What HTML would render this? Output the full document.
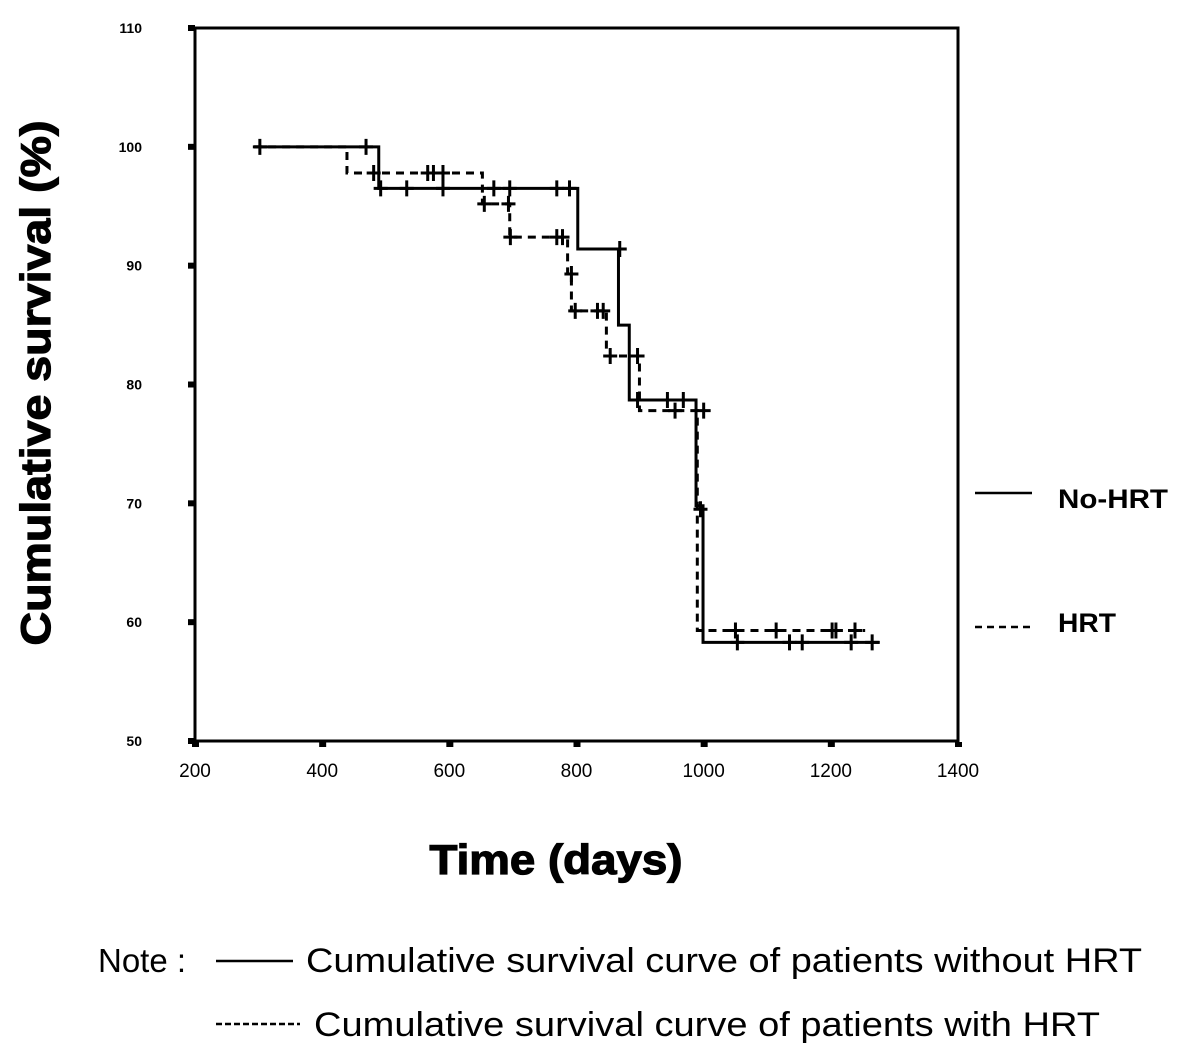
<!DOCTYPE html>
<html><head><meta charset="utf-8"><style>
body{margin:0;background:#fff;}
svg{display:block;font-family:"Liberation Sans",Arial,sans-serif;}
</style></head><body>
<svg id="chart" width="1181" height="1063" viewBox="0 0 1181 1063">
<rect x="0" y="0" width="1181" height="1063" fill="#fff"/>
<rect x="195" y="28" width="763" height="713" fill="none" stroke="#000" stroke-width="3"/>
<g id="yticks"></g>
<g id="xticks"></g>
<g id="series"></g>
<text x="0" y="0" transform="translate(50,383) rotate(-90)" text-anchor="middle" font-size="42" font-weight="bold" stroke="#000" stroke-width="1.2" textLength="525" lengthAdjust="spacingAndGlyphs">Cumulative survival (%)</text>
<text x="556" y="874" text-anchor="middle" font-size="42" font-weight="bold" stroke="#000" stroke-width="1.2" textLength="253" lengthAdjust="spacingAndGlyphs">Time (days)</text>
<line x1="975" y1="493" x2="1032" y2="493" stroke="#000" stroke-width="2.5"/>
<text x="1058" y="508" font-size="27" font-weight="bold" textLength="110" lengthAdjust="spacingAndGlyphs">No-HRT</text>
<line x1="975" y1="627" x2="1032" y2="627" stroke="#000" stroke-width="2.5" stroke-dasharray="7,5"/>
<text x="1058" y="632" font-size="27" font-weight="bold" textLength="58" lengthAdjust="spacingAndGlyphs">HRT</text>
<text x="98" y="972" font-size="33">Note :</text>
<line x1="216" y1="961" x2="293" y2="961" stroke="#000" stroke-width="2.5"/>
<text x="306" y="972" font-size="34" textLength="836" lengthAdjust="spacingAndGlyphs">Cumulative survival curve of patients without HRT</text>
<line x1="216" y1="1024" x2="300" y2="1024" stroke="#000" stroke-width="2.5" stroke-dasharray="6,3"/>
<text x="314" y="1036" font-size="34" textLength="786" lengthAdjust="spacingAndGlyphs">Cumulative survival curve of patients with HRT</text>
</svg>
<script>
const yTicks=[50,60,70,80,90,100,110];
const xTicks=[200,400,600,800,1000,1200,1400];
const noHrtTimes=[293,489,802,866,883,988,999,1277];
const noHrtValues=[100,96.5,91.4,85.0,78.7,69.8,58.3,58.3];
const noHrtCensorT=[302,469,492,533,590,670,695,769,789,868,896,943,968,1053,1135,1155,1232,1265];
const noHrtCensorV=[100,100,96.5,96.5,96.5,96.5,96.5,96.5,96.5,91.4,78.7,78.7,78.7,58.3,58.3,58.3,58.3,58.3];
const hrtTimes=[293,439,652,695,786,792,847,899,990,1254];
const hrtValues=[100,97.8,95.2,92.4,89.3,86.2,82.4,77.8,59.3,59.3];
const hrtCensorT=[481,566,575,590,655,693,696,769,778,792,798,833,842,853,896,955,1000,995,1050,1114,1202,1208,1238];
const hrtCensorV=[97.8,97.8,97.8,97.8,95.2,95.2,92.4,92.4,92.4,89.3,86.2,86.2,86.2,82.4,82.4,77.8,77.8,69.5,59.3,59.3,59.3,59.3,59.3];
const NS="http://www.w3.org/2000/svg";
const X=d=>195+(d-200)*763/1200;
const Y=v=>741-(v-50)*713/60;
function mk(tag,attrs,parent){const e=document.createElementNS(NS,tag);for(const k in attrs)e.setAttribute(k,attrs[k]);parent.appendChild(e);return e;}
const yg=document.getElementById('yticks'),xg=document.getElementById('xticks'),sg=document.getElementById('series');
yTicks.forEach(v=>{
  const r=mk('rect',{x:188,y:Y(v)-3,width:7,height:6,fill:'#000'},yg);
  
  
  const t=mk('text',{x:142,y:Y(v)+5,'text-anchor':'end','font-size':14,'font-weight':'bold'},yg);
  t.textContent=v;
  
  
});
xTicks.forEach(d=>{
  const r=mk('rect',{x:X(d)-3,y:742,width:7,height:5,fill:'#000'},xg);
  
  
  const t=mk('text',{x:X(d),y:777,'text-anchor':'middle','font-size':19},xg);
  t.textContent=d;
  
  
});
function stepPath(ts,vs){let p='M'+X(ts[0])+','+Y(vs[0]);for(let i=1;i<ts.length;i++){p+=' H'+X(ts[i])+' V'+Y(vs[i]);}return p;}
const hp=mk('path',{d:stepPath(hrtTimes,hrtValues),fill:'none',stroke:'#000','stroke-width':3,'stroke-dasharray':'8,6'},sg);


const np=mk('path',{d:stepPath(noHrtTimes,noHrtValues),fill:'none',stroke:'#000','stroke-width':3},sg);


function censors(ts,vs,name){ts.forEach((t,i)=>{
  const x=X(t),y=Y(vs[i]);
  const c=mk('path',{d:'M'+(x-7)+','+y+' H'+(x+7)+' M'+x+','+(y-8)+' V'+(y+8),stroke:'#000','stroke-width':3,fill:'none'},sg);
  
  
});}
censors(noHrtCensorT,noHrtCensorV,'no-hrt-censor-mark');
censors(hrtCensorT,hrtCensorV,'hrt-censor-mark');
</script>
</body></html>
